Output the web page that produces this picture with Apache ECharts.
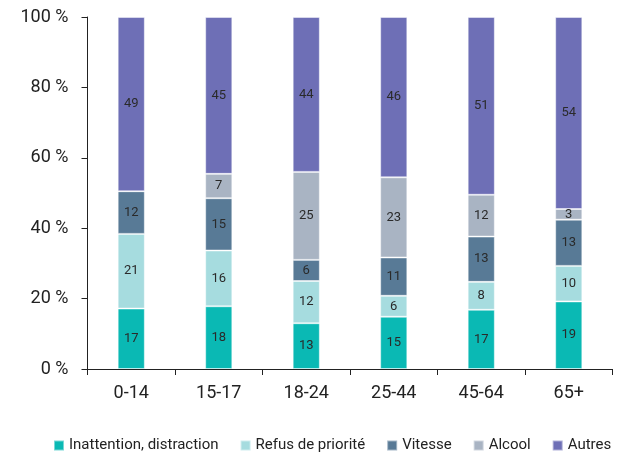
<!DOCTYPE html>
<html><head><meta charset="utf-8">
<script src="https://cdn.jsdelivr.net/npm/echarts@6/dist/echarts.min.js"></script>
<style>html,body{margin:0;padding:0;background:#fff}#c{width:625px;height:454px}</style>
</head><body><div id="c"></div>
<script>
const categories = ['0-14', '15-17', '18-24', '25-44', '45-64', '65+'];
const inattention = [17, 18, 13, 15, 17, 19];
const refus = [21, 16, 12, 6, 8, 10];
const vitesse = [12, 15, 6, 11, 13, 13];
const alcool = [0, 7, 25, 23, 12, 3];
const autres = [49, 45, 44, 46, 51, 54];
const yTicks = [0, 20, 40, 60, 80, 100];

const seriesDefs = [
  ['Inattention, distraction', inattention, '#0ab9b4'],
  ['Refus de priorité', refus, '#a6dcdf'],
  ['Vitesse', vitesse, '#587a96'],
  ['Alcool', alcool, '#a9b4c3'],
  ['Autres', autres, '#6e6fb6']
];
const totals = categories.map((c, i) => seriesDefs.reduce((s, d) => s + d[1][i], 0));
const FONT = 'Roboto';
const chart = echarts.init(document.getElementById('c'), null, {renderer: 'canvas'});
chart.setOption({
  animation: false,
  textStyle: {fontFamily: FONT},
  grid: {left: 87.5, right: 12.5, top: 17, bottom: 85},
  legend: {
    top: 433, left: 48, itemWidth: 10, itemHeight: 10, itemGap: 21, icon: 'rect',
    textStyle: {fontSize: 15, color: '#222', fontFamily: FONT}
  },
  xAxis: {
    type: 'category', data: categories,
    axisLine: {lineStyle: {color: '#222', width: 1}},
    axisTick: {show: true, length: 6, lineStyle: {color: '#222'}},
    axisLabel: {fontSize: 18, color: '#222', margin: 15}
  },
  yAxis: {
    type: 'value', min: 0, max: 100, interval: 20,
    axisLine: {show: true, lineStyle: {color: '#222', width: 1}},
    axisTick: {show: true, length: 6, lineStyle: {color: '#222'}},
    splitLine: {show: false},
    axisLabel: {fontSize: 18, color: '#222', margin: 19, formatter: v => yTicks.includes(v) ? v + ' %' : ''}
  },
  series: seriesDefs.map(([name, vals, color]) => ({
    name, type: 'bar', stack: 'total', barWidth: '31%',
    data: vals.map((v, i) => ({value: v / totals[i] * 100, raw: v})),
    itemStyle: {color, borderColor: 'rgba(255,255,255,0.45)', borderWidth: 1},
    label: {
      show: true, position: 'inside', fontSize: 13, color: '#2a2a2a',
      formatter: p => p.data.raw ? String(p.data.raw) : ''
    }
  }))
});
</script></body></html>
